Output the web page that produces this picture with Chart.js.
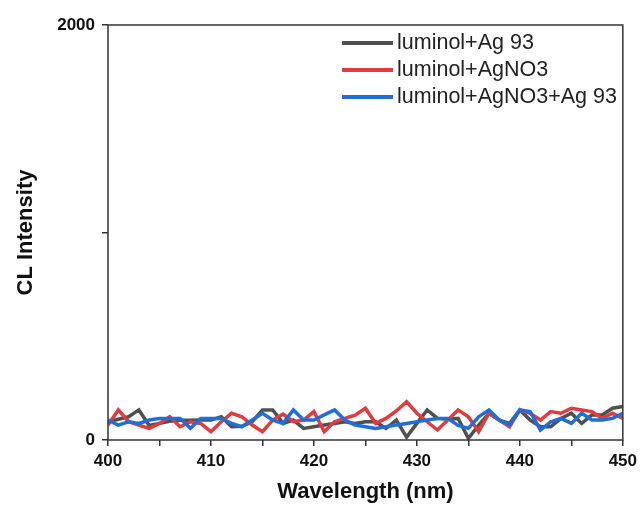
<!DOCTYPE html>
<html>
<head>
<meta charset="utf-8">
<script src="https://cdn.jsdelivr.net/npm/chart.js@4/dist/chart.umd.min.js"></script>
<style>
    body { margin: 0; background: #fff; }
    #wrap { width: 642px; height: 507px; }
</style>
</head>
<body>
<div id="wrap"><canvas id="chart" width="642" height="507"></canvas></div>
<script>
// wavelength axis, 1 nm steps
const wavelengths = [];
for (let w = 400; w <= 450; w++) wavelengths.push(w);

const agSeries = [
    88, 100, 112, 145, 70, 80, 90, 95, 95, 96,
    96, 112, 64, 66, 88, 145, 145, 80, 96, 56,
    64, 72, 80, 88, 80, 88, 88, 56, 96, 14,
    80, 145, 104, 100, 104, 8, 72, 129, 96, 80,
    145, 96, 64, 64, 104, 129, 80, 121, 121, 153,
    161
];
const agno3Series = [
    72, 145, 88, 72, 56, 80, 112, 64, 88, 80,
    40, 88, 129, 112, 72, 40, 96, 125, 88, 96,
    137, 40, 88, 104, 120, 153, 80, 104, 140, 185,
    129, 88, 48, 96, 145, 112, 40, 129, 96, 64,
    145, 129, 96, 137, 129, 153, 145, 137, 104, 129,
    104
];
const mixSeries = [
    96, 72, 88, 80, 96, 104, 104, 104, 56, 104,
    104, 104, 80, 64, 96, 129, 96, 80, 145, 96,
    96, 121, 145, 96, 72, 64, 56, 64, 72, 80,
    88, 96, 104, 104, 70, 56, 112, 145, 96, 72,
    145, 137, 48, 88, 104, 80, 129, 96, 96, 104,
    129
];

const seriesLabels = ['luminol+Ag 93', 'luminol+AgNO3', 'luminol+AgNO3+Ag 93'];
const seriesColors = ['#505050', '#e23b3f', '#1f6fd6'];

const toPoints = (vals) => vals.map((v, i) => ({ x: wavelengths[i], y: v }));

const tickFont = { family: "'Liberation Sans', Arial, sans-serif", size: 17, weight: 'bold' };
const titleFont = { family: "'Liberation Sans', Arial, sans-serif", size: 22, weight: 'bold' };

// box around the plot plus the legend in its top right corner
const frameAndLegend = {
    id: 'frameAndLegend',
    afterDatasetsDraw(chart) {
        const { ctx, chartArea: a } = chart;
        ctx.save();
        ctx.strokeStyle = '#333';
        ctx.lineWidth = 1.5;
        ctx.strokeRect(a.left, a.top, a.right - a.left, a.bottom - a.top);

        ctx.font = "21.5px 'Liberation Sans', Arial, sans-serif";
        ctx.textBaseline = 'middle';
        ctx.fillStyle = '#222';
        chart.data.datasets.forEach((ds, i) => {
            const y = 43 + i * 27;
            ctx.strokeStyle = ds.borderColor;
            ctx.lineWidth = 4;
            ctx.beginPath();
            ctx.moveTo(342, y);
            ctx.lineTo(393, y);
            ctx.stroke();
            ctx.fillText(ds.label, 397, y);
        });
        ctx.restore();
    }
};

const context = document.getElementById('chart').getContext('2d');

const chart = new Chart(context, {
    type: 'line',
    data: {
        datasets: [
            { label: seriesLabels[0], data: toPoints(agSeries), borderColor: seriesColors[0], order: 2 },
            { label: seriesLabels[1], data: toPoints(agno3Series), borderColor: seriesColors[1], order: 1 },
            { label: seriesLabels[2], data: toPoints(mixSeries), borderColor: seriesColors[2], order: 0 }
        ]
    },
    options: {
        responsive: false,
        animation: false,
        devicePixelRatio: 1,
        layout: { padding: { left: 0, top: 25, right: 19, bottom: 0 } },
        elements: {
            line: { borderWidth: 3.5, tension: 0, borderJoinStyle: 'miter' },
            point: { radius: 0 }
        },
        scales: {
            x: {
                type: 'linear',
                min: 400,
                max: 450,
                afterFit: (scale) => { scale.height = 67; },
                border: { display: false },
                grid: { drawOnChartArea: false, drawTicks: true, tickLength: 6, color: '#333', lineWidth: 1.5 },
                ticks: {
                    stepSize: 5,
                    padding: 5,
                    color: '#111',
                    font: tickFont,
                    callback: (v) => (v % 10 === 0 ? v : '')
                },
                title: { display: true, text: 'Wavelength (nm)', color: '#111', font: titleFont, padding: { top: 0, bottom: 2 } }
            },
            y: {
                min: 0,
                max: 2000,
                afterFit: (scale) => { scale.width = 108; },
                border: { display: false },
                grid: { drawOnChartArea: false, drawTicks: true, tickLength: 6, color: '#333', lineWidth: 1.5 },
                ticks: {
                    stepSize: 1000,
                    padding: 7,
                    color: '#111',
                    font: tickFont,
                    callback: (v) => (v === 1000 ? '' : v)
                },
                title: { display: true, text: 'CL Intensity', color: '#111', font: titleFont, padding: { top: 13, bottom: 0 } }
            }
        },
        plugins: {
            legend: { display: false },
            tooltip: { enabled: false }
        }
    },
    plugins: [frameAndLegend]
});
</script>
</body>
</html>
